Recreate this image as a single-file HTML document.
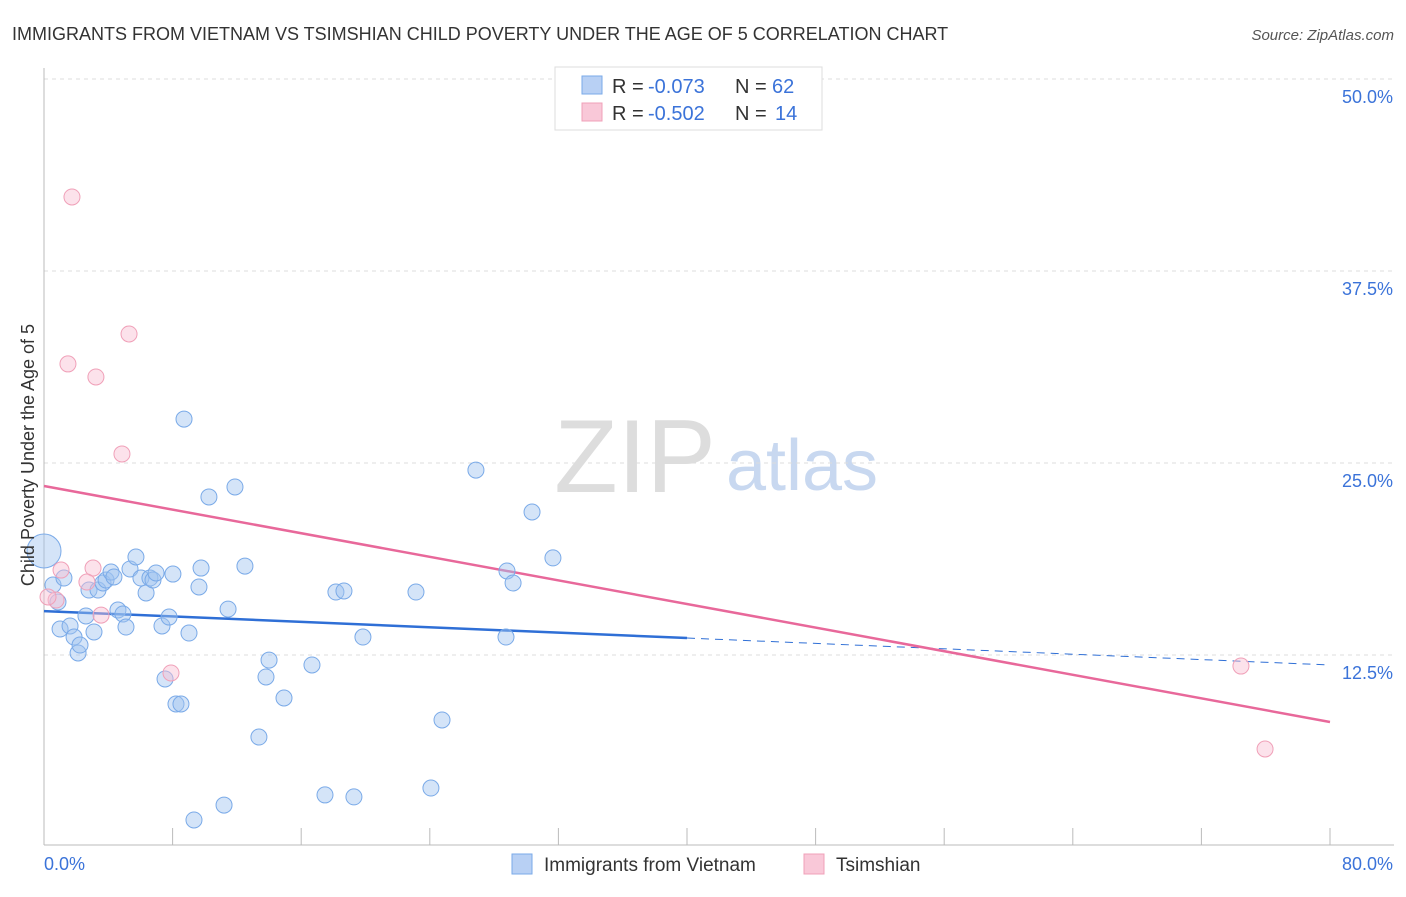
<!DOCTYPE html>
<html><head><meta charset="utf-8"><style>
body{margin:0;background:#fff;font-family:"Liberation Sans",sans-serif;}
svg text{font-family:"Liberation Sans",sans-serif;}
</style></head><body>
<svg id="chart" width="1406" height="892" viewBox="0 0 1406 892">
<text x="12" y="40" font-size="18" fill="#333">IMMIGRANTS FROM VIETNAM VS TSIMSHIAN CHILD POVERTY UNDER THE AGE OF 5 CORRELATION CHART</text>
<text x="1394" y="40" font-size="15" fill="#555" text-anchor="end" font-style="italic">Source: ZipAtlas.com</text>
<g><text x="635" y="492" font-size="104" fill="#ddd" text-anchor="middle" font-family="Liberation Serif">ZIP</text><text x="802" y="490" font-size="72" fill="#c8d8f0" text-anchor="middle">atlas</text></g>
<g id="grid"></g>
<g id="axes"></g>
<g id="trends"></g>
<g id="points"></g>
<text transform="translate(34,455) rotate(-90)" font-size="18" fill="#333" text-anchor="middle">Child Poverty Under the Age of 5</text>
<g>
<rect x="555" y="67" width="267" height="63" fill="#fff" stroke="#ddd"/>
<rect x="582" y="76" width="20" height="18" fill="#b8d0f4" stroke="#7aaae8"/>
<text x="612" y="93" font-size="20" fill="#333">R =</text>
<text x="648" y="93" font-size="20" fill="#3b73d9">-0.073</text>
<text x="735" y="93" font-size="20" fill="#333">N =</text>
<text x="772" y="93" font-size="20" fill="#3b73d9">62</text>
<rect x="582" y="103" width="20" height="18" fill="#f9c8d8" stroke="#f0a0b8"/>
<text x="612" y="120" font-size="20" fill="#333">R =</text>
<text x="648" y="120" font-size="20" fill="#3b73d9">-0.502</text>
<text x="735" y="120" font-size="20" fill="#333">N =</text>
<text x="775" y="120" font-size="20" fill="#3b73d9">14</text>
</g>
<g>
<rect x="512" y="854" width="20" height="20" fill="#b8d0f4" stroke="#7aaae8"/>
<text x="544" y="871" font-size="19" fill="#333">Immigrants from Vietnam</text>
<rect x="804" y="854" width="20" height="20" fill="#f9c8d8" stroke="#f0a0b8"/>
<text x="836" y="871" font-size="19" fill="#333">Tsimshian</text>
</g>
</svg>
<script>
const yTicks=[12.5,25,37.5,50];
const yTickLabels=["12.5%","25.0%","37.5%","50.0%"];
const xTickVals=[0,8,16,24,32,40,48,56,64,72,80];
const xEndLabels=["0.0%","80.0%"];
const blueX=[0.56,0.87,1.24,1.0,1.62,1.87,2.12,2.24,2.61,2.8,3.11,3.36,3.67,3.86,4.17,4.35,4.6,4.91,5.1,5.35,5.72,6.03,6.35,6.59,6.78,6.97,7.34,7.78,8.02,7.53,8.21,8.52,8.71,9.02,9.64,9.77,10.26,11.45,11.88,12.5,13.37,13.81,14.0,14.93,16.67,11.2,9.33,17.48,18.16,18.66,19.28,19.84,23.14,24.07,24.76,26.87,28.74,28.8,29.18,30.36,31.66,0];
const blueY=[17.06,15.95,17.51,14.19,14.39,13.67,12.63,13.15,15.04,16.73,14.0,16.73,17.19,17.38,17.9,17.58,15.43,15.17,14.32,18.1,18.88,17.51,16.54,17.51,17.38,17.84,14.39,14.97,17.77,10.94,9.31,9.31,27.86,13.93,16.93,18.16,22.79,15.49,23.44,18.29,7.16,11.07,12.17,9.7,11.85,2.73,1.76,3.39,16.6,16.67,3.26,13.67,16.6,3.84,8.27,24.54,13.67,17.97,17.19,21.81,18.82,19.27];
const pinkX=[1.74,5.29,1.49,3.23,4.85,1.06,3.05,2.67,3.55,7.9,0.75,0.25,74.46,75.96];
const pinkY=[42.32,33.4,31.45,30.6,25.59,18.03,18.16,17.25,15.1,11.33,16.08,16.28,11.78,6.38];
const blueTrend=[15.36,11.85];
const pinkTrend=[23.5,8.14];
const NS="http://www.w3.org/2000/svg";
const xs=v=>44+v*16.075, ys=v=>79+(50-v)*15.36;
function mk(parent,tag,attrs){const e=document.createElementNS(NS,tag);for(const k in attrs)e.setAttribute(k,attrs[k]);document.getElementById(parent).appendChild(e);return e;}
yTicks.forEach((t,i)=>{
 const l=mk('grid','line',{x1:44,x2:1394,y1:ys(t),y2:ys(t),stroke:'#ddd','stroke-dasharray':'4,4'});
 
 
 const tx=mk('grid','text',{x:1393,y:ys(t)+24,'font-size':18,fill:'#3b73d9','text-anchor':'end'});
 tx.textContent=yTickLabels[i];
 
 
});
let a=mk('axes','line',{x1:44,x2:44,y1:68,y2:845,stroke:'#bbb'});


a=mk('axes','line',{x1:44,x2:1394,y1:845,y2:845,stroke:'#bbb'});


xTickVals.forEach(t=>{const l=mk('axes','line',{x1:xs(t),x2:xs(t),y1:828,y2:845,stroke:'#bbb'});
 
 });
let t0=mk('axes','text',{x:44,y:870,'font-size':18,fill:'#3b73d9'});t0.textContent=xEndLabels[0];


let t1=mk('axes','text',{x:1393,y:870,'font-size':18,fill:'#3b73d9','text-anchor':'end'});t1.textContent=xEndLabels[1];


blueX.forEach((x,i)=>{const r=(x===0)?17:8;const c=mk('points','circle',{cx:xs(x),cy:ys(blueY[i]),r:r,fill:'rgba(160,195,240,0.45)',stroke:'#7aaae8','stroke-width':1});
 
 });
pinkX.forEach((x,i)=>{const c=mk('points','circle',{cx:xs(x),cy:ys(pinkY[i]),r:8,fill:'rgba(248,190,210,0.45)',stroke:'#f0a0b8','stroke-width':1});
 
 });
const bAt=v=>blueTrend[0]+(blueTrend[1]-blueTrend[0])*v/80;
let l=mk('trends','line',{x1:xs(0),y1:ys(bAt(0)),x2:xs(40),y2:ys(bAt(40)),stroke:'#2f6fd6','stroke-width':2.5});


l=mk('trends','line',{x1:xs(40),y1:ys(bAt(40)),x2:xs(80),y2:ys(bAt(80)),stroke:'#2f6fd6','stroke-width':1,'stroke-dasharray':'8,6'});


l=mk('trends','line',{x1:xs(0),y1:ys(pinkTrend[0]),x2:xs(80),y2:ys(pinkTrend[1]),stroke:'#e8689a','stroke-width':2.5});


</script>
</body></html>
